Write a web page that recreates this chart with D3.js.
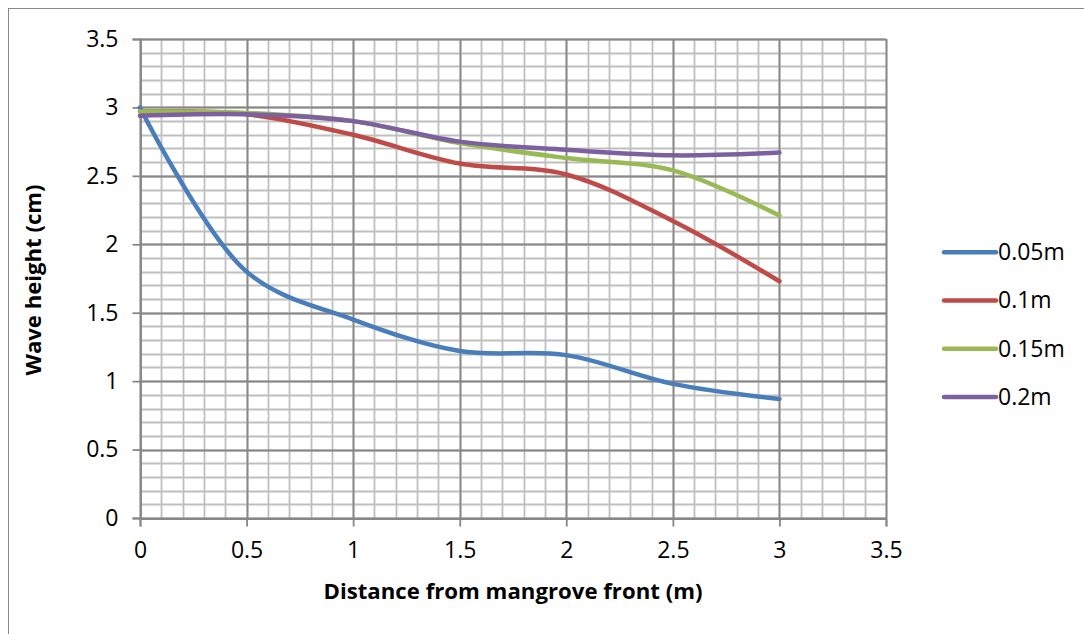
<!DOCTYPE html>
<html><head><meta charset="utf-8">
<script src="https://cdn.jsdelivr.net/npm/d3@7"></script>
<style>body{margin:0;background:#fff}svg{display:block}text{font-family:"Open Sans",sans-serif;fill:#000}</style>
</head><body><svg id="c" width="1084" height="634"></svg>
<script>
const distances = [0, 0.5, 1, 1.5, 2, 2.5, 3];
const seriesNames = ["0.05m", "0.1m", "0.15m", "0.2m"];
const s005 = [3.0, 1.80, 1.45, 1.22, 1.19, 0.98, 0.87];
const s010 = [2.97, 2.95, 2.80, 2.59, 2.51, 2.17, 1.73];
const s015 = [2.97, 2.96, 2.90, 2.74, 2.63, 2.54, 2.21];
const s020 = [2.94, 2.95, 2.90, 2.75, 2.69, 2.65, 2.67];
const seriesColors = ["#4A7EBB", "#BE4B48", "#98B954", "#7D60A0"];
const xTicks = [0, 0.5, 1, 1.5, 2, 2.5, 3, 3.5];
const yTicks = [0, 0.5, 1, 1.5, 2, 2.5, 3, 3.5];
const FONT = "'Open Sans', sans-serif";

const svg = d3.select("#c");
svg.append("rect").attr("x", 8.5).attr("y", 8.5).attr("width", 1100).attr("height", 700)
  .attr("fill", "none").attr("stroke", "#898989").attr("stroke-width", 1);

const x = d3.scaleLinear().domain([0, 3.5]).range([140, 886]);
const y = d3.scaleLinear().domain([0, 3.5]).range([518, 39]);

const minor = d3.range(0, 36).map(i => i / 10);
const g = svg.append("g");
g.selectAll("line.vm").data(minor).join("line")
  .attr("x1", d => Math.round(x(d)) + 0.5).attr("x2", d => Math.round(x(d)) + 0.5)
  .attr("y1", y(3.5)).attr("y2", y(0)).attr("stroke", "#bfbfbf").attr("stroke-width", 1.8);
g.selectAll("line.hm").data(minor).join("line")
  .attr("y1", d => Math.round(y(d)) + 0.5).attr("y2", d => Math.round(y(d)) + 0.5)
  .attr("x1", x(0)).attr("x2", x(3.5)).attr("stroke", "#bfbfbf").attr("stroke-width", 1.8);
g.selectAll("line.vM").data(xTicks).join("line")
  .attr("x1", d => Math.round(x(d)) + 0.5).attr("x2", d => Math.round(x(d)) + 0.5)
  .attr("y1", y(3.5)).attr("y2", y(0)).attr("stroke", "#878787").attr("stroke-width", 1.8);
g.selectAll("line.hM").data(yTicks).join("line")
  .attr("y1", d => Math.round(y(d)) + 0.5).attr("y2", d => Math.round(y(d)) + 0.5)
  .attr("x1", x(0)).attr("x2", x(3.5)).attr("stroke", "#878787").attr("stroke-width", 1.8);

const xAxis = svg.append("g").attr("transform", "translate(0,518.5)")
  .call(d3.axisBottom(x).tickValues(xTicks).tickFormat(d3.format("")).tickSize(8).tickPadding(15));
const yAxis = svg.append("g").attr("transform", "translate(140.5,0)")
  .call(d3.axisLeft(y).tickValues(yTicks).tickFormat(d3.format("")).tickSize(8).tickPadding(14));
[xAxis, yAxis].forEach(a => {
  a.selectAll("path").attr("stroke", "#878787").attr("stroke-width", 1.8);
  a.selectAll("line").attr("stroke", "#878787").attr("stroke-width", 1.8);
  a.selectAll("text").attr("font-size", 23).style("font-family", FONT).attr("fill", "#000");
});

const data = [s005, s010, s015, s020];
const line = d3.line().x((d, i) => x(distances[i])).y(d => y(d)).curve(d3.curveCatmullRom.alpha(0.5));
svg.append("g").selectAll("path").data(data).join("path")
  .attr("d", d => line(d)).attr("fill", "none")
  .attr("stroke", (d, i) => seriesColors[i]).attr("stroke-width", 4.5)
  .attr("stroke-linecap", "round").attr("stroke-linejoin", "round");

svg.append("text").attr("x", 513).attr("y", 599).attr("text-anchor", "middle")
  .attr("font-size", 21).attr("font-weight", "bold").attr("textLength", 379)
  .attr("lengthAdjust", "spacingAndGlyphs").text("Distance from mangrove front (m)");
svg.append("text").attr("transform", "translate(41,280) rotate(-90)").attr("text-anchor", "middle")
  .attr("font-size", 21).attr("font-weight", "bold").attr("textLength", 191)
  .attr("lengthAdjust", "spacingAndGlyphs").text("Wave height (cm)");

const leg = svg.append("g");
const ly = d3.scaleBand().domain(seriesNames).range([228, 421]);
seriesNames.forEach((n, i) => {
  const cy = ly(n) + ly.bandwidth() / 2;
  leg.append("line").attr("x1", 944).attr("x2", 996).attr("y1", cy).attr("y2", cy)
    .attr("stroke", seriesColors[i]).attr("stroke-width", 4.5).attr("stroke-linecap", "round");
  leg.append("text").attr("x", 998).attr("y", cy + 8).attr("font-size", 23).text(n);
});
</script></body></html>
